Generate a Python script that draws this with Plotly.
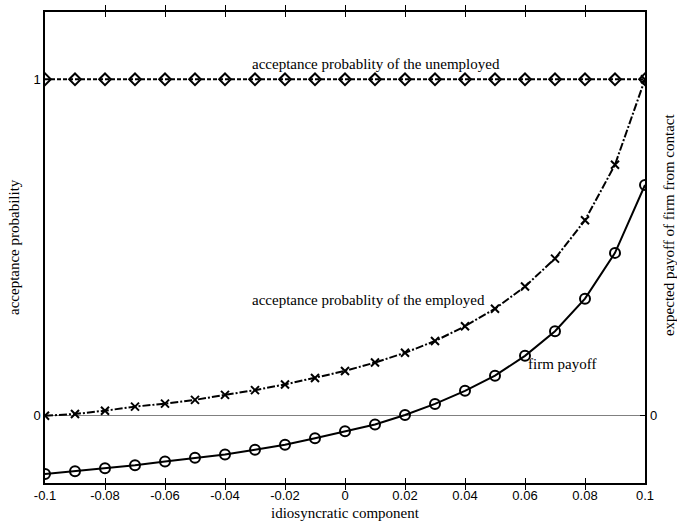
import plotly.graph_objects as go

x_vals = [-0.1, -0.09, -0.08, -0.07, -0.06, -0.05, -0.04, -0.03, -0.02, -0.01, 0.0,
          0.01, 0.02, 0.03, 0.04, 0.05, 0.06, 0.07, 0.08, 0.09, 0.1]
unemployed = [1.0] * 21
employed = [0.0, 0.005, 0.015, 0.027, 0.036, 0.047, 0.062, 0.076, 0.093, 0.112, 0.133,
            0.158, 0.187, 0.222, 0.266, 0.318, 0.384, 0.467, 0.581, 0.746, 1.0]
firm_payoff = [-0.173, -0.165, -0.156, -0.147, -0.136, -0.125, -0.115, -0.101, -0.086, -0.067, -0.046,
               -0.026, 0.002, 0.035, 0.074, 0.119, 0.178, 0.251, 0.348, 0.484, 0.686]
x_ticks = [-0.1, -0.08, -0.06, -0.04, -0.02, 0, 0.02, 0.04, 0.06, 0.08, 0.1]
x_tick_labels = ["-0.1", "-0.08", "-0.06", "-0.04", "-0.02", "0", "0.02", "0.04", "0.06", "0.08", "0.1"]

serif = "Liberation Serif"
sans = "Liberation Sans"

fig = go.Figure()
fig.add_trace(go.Scatter(x=x_vals, y=unemployed, mode="lines+markers",
                         line=dict(color="black", width=2, dash="4px,2px"),
                         marker=dict(symbol="diamond-open", size=9, color="black", line=dict(width=2)),
                         showlegend=False))
fig.add_trace(go.Scatter(x=x_vals, y=employed, mode="lines+markers",
                         line=dict(color="black", width=2, dash="8px,2px,2px,2px"),
                         marker=dict(symbol="x-thin-open", size=8, color="black", line=dict(width=2)),
                         showlegend=False))
fig.add_trace(go.Scatter(x=x_vals, y=firm_payoff, mode="lines+markers",
                         line=dict(color="black", width=2),
                         marker=dict(symbol="circle-open", size=10, color="black", line=dict(width=2)),
                         showlegend=False))
# invisible trace for right axis
fig.add_trace(go.Scatter(x=[x_vals[0]], y=[0], yaxis="y2", mode="markers",
                         marker=dict(opacity=0), showlegend=False, hoverinfo="skip"))

W, H = 677, 525
L, R, T, B = 45, 32, 10, 42
pw, ph = W - L - R, H - T - B


def px(x, y):
    return (x - L) / pw, 1 - (y - T) / ph


labels = [
    ("acceptance probablity of the unemployed", 376, 62, 0),
    ("acceptance probablity of the employed", 368, 299, 0),
    ("firm payoff", 562, 363, 0),
    ("idiosyncratic component", 345, 513, 0),
    ("acceptance probability", 14, 246, -90),
    ("expected payoff of firm from contact", 669, 224, -90),
]
annotations = []
for text, x, y, ang in labels:
    ax, ay = px(x, y)
    annotations.append(dict(text=text, x=ax, y=ay, xref="paper", yref="paper",
                            xanchor="center", yanchor="middle", showarrow=False,
                            textangle=ang, font=dict(family=serif, size=15, color="black")))

fig.update_layout(
    width=W, height=H,
    margin=dict(l=L, r=R, t=T, b=B),
    paper_bgcolor="white", plot_bgcolor="white",
    font=dict(color="black"),
    xaxis=dict(range=[-0.1, 0.1], tickvals=x_ticks, ticktext=x_tick_labels,
               ticks="inside", ticklen=5, tickcolor="black", showline=True, linecolor="black",
               linewidth=1.5, mirror="allticks", showgrid=False, zeroline=False,
               tickfont=dict(family=sans, size=13, color="black")),
    yaxis=dict(range=[-0.2, 1.2], tickvals=[0, 1], ticktext=["0", "1"],
               ticks="inside", ticklen=5, tickcolor="black", showline=True, linecolor="black",
               linewidth=1.5, mirror=True, showgrid=False, zeroline=True,
               zerolinecolor="#808080", zerolinewidth=1,
               tickfont=dict(family=sans, size=13, color="black")),
    yaxis2=dict(range=[-0.2, 1.2], tickvals=[0], ticktext=["0"], overlaying="y", side="right",
                ticks="inside", ticklen=5, tickcolor="black", showline=False,
                showgrid=False, zeroline=False, ticklabelstandoff=4,
                tickfont=dict(family=sans, size=13, color="black")),
    annotations=annotations,
)

fig.write_html("out.html")
